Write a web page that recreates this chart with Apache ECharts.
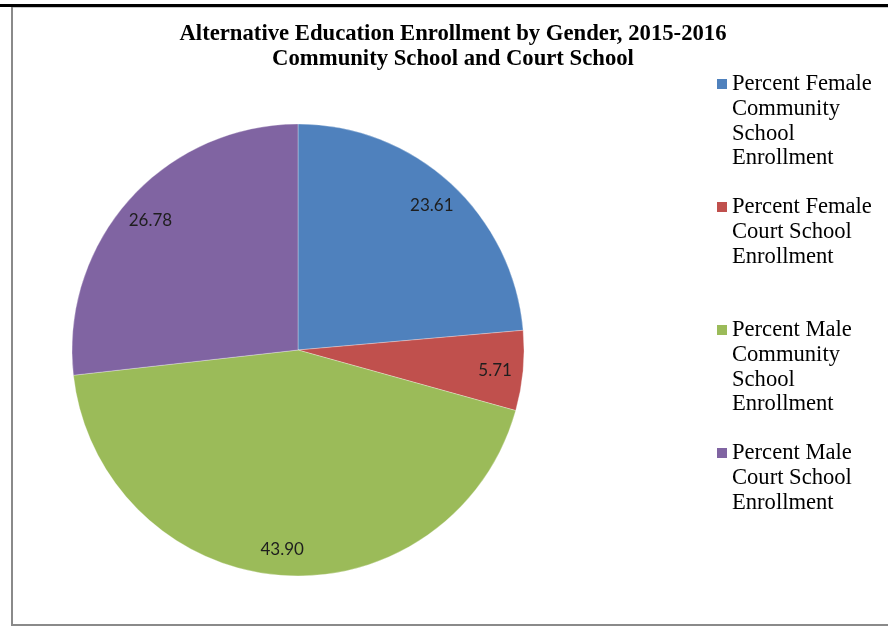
<!DOCTYPE html>
<html>
<head>
<meta charset="utf-8">
<style>
  html, body { margin: 0; padding: 0; background: #fff; }
  #chart { width: 888px; height: 631px; }
</style>
<script src="https://cdn.jsdelivr.net/npm/echarts@6/dist/echarts.min.js"></script>
</head>
<body>
<div id="chart"></div>
<script>
// ---- data ----
const categories = [
  'Percent Female Community School Enrollment',
  'Percent Female Court School Enrollment',
  'Percent Male Community School Enrollment',
  'Percent Male Court School Enrollment'
];
const legendLines = [
  ['Percent Female', 'Community', 'School', 'Enrollment'],
  ['Percent Female', 'Court School', 'Enrollment'],
  ['Percent Male', 'Community', 'School', 'Enrollment'],
  ['Percent Male', 'Court School', 'Enrollment']
];
const values = [23.61, 5.71, 43.90, 26.78];
const colors = ['#4F81BD', '#C0504D', '#9BBB59', '#8064A2'];
const titleText = 'Alternative Education Enrollment by Gender, 2015-2016\nCommunity School and Court School';

// ---- layout ----
const LH = 24.8;
const legendFirstCenters = [84, 207, 330, 453];
const serif = '"Liberation Serif", "Times New Roman", serif';

const chart = echarts.init(document.getElementById('chart'));
const pieData = categories.map((n, i) => ({ name: n, value: values[i], itemStyle: { color: colors[i] } }));

const legends = categories.map((name, i) => {
  const n = legendLines[i].length;
  const H = n * LH;
  const c = LH / 2;
  const icon = 'path://M0,0L10,0M0,' + (c - 5) + 'L10,' + (c - 5) + 'L10,' + (c + 5) + 'L0,' + (c + 5) + 'ZM0,' + H + 'L10,' + H;
  return {
    data: [name],
    orient: 'vertical',
    left: 717,
    top: legendFirstCenters[i] - c,
    padding: 0,
    itemWidth: 10,
    itemHeight: H,
    icon: icon,
    selectedMode: false,
    itemStyle: { borderWidth: 0 },
    formatter: () => legendLines[i].join('\n'),
    textStyle: { fontFamily: serif, fontSize: 22.6, lineHeight: LH, color: '#000' }
  };
});

chart.setOption({
  animation: false,
  backgroundColor: '#fff',
  title: {
    text: titleText,
    left: 453,
    top: 22,
    padding: 0,
    textAlign: 'center',
    textStyle: { fontFamily: serif, fontSize: 22.7, fontWeight: 'bold', lineHeight: 24.5, color: '#000' }
  },
  legend: legends,
  graphic: [
    { type: 'rect', shape: { x: 0, y: 4, width: 888, height: 3 }, style: { fill: '#000' }, silent: true },
    { type: 'rect', shape: { x: 11, y: 7, width: 2, height: 619 }, style: { fill: '#8a8a8a' }, silent: true },
    { type: 'rect', shape: { x: 11, y: 624, width: 877, height: 2 }, style: { fill: '#8a8a8a' }, silent: true },
    { type: 'rect', shape: { x: 13, y: 7, width: 875, height: 1 }, style: { fill: '#c8c8c8' }, silent: true }
  ],
  series: [
    {
      type: 'pie',
      center: [298, 350],
      radius: [0, 226],
      startAngle: 90,
      clockwise: true,
      data: pieData,
      label: { show: false },
      labelLine: { show: false },
      itemStyle: { borderWidth: 0.6, borderColor: 'rgba(255,255,255,0.5)' },
      emphasis: { disabled: true },
      silent: true
    },
    {
      type: 'pie',
      center: [298, 352],
      radius: [164, 226],
      startAngle: 90,
      clockwise: true,
      data: categories.map((n, i) => ({ name: n, value: values[i] })),
      itemStyle: { color: 'rgba(0,0,0,0)', borderWidth: 0 },
      label: {
        show: true,
        position: 'inside',
        formatter: p => p.value.toFixed(2),
        fontFamily: 'Lato, "Open Sans", sans-serif',
        fontSize: 17,
        color: '#1e1e1e'
      },
      labelLine: { show: false },
      emphasis: { disabled: true },
      silent: true
    }
  ]
});
</script>
</body>
</html>
